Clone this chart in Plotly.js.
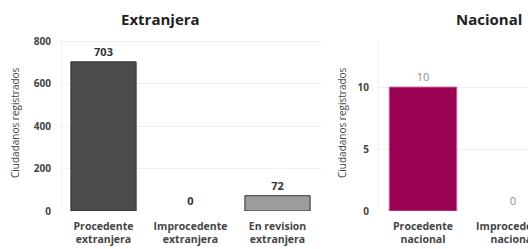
<!DOCTYPE html>
<html>
<head>
<meta charset="utf-8">
<script src="https://cdn.plot.ly/plotly-3.0.1.min.js"></script>
<style>
html,body{margin:0;padding:0;overflow:hidden;background:#fff;}
#chart{width:660px;height:249px;}
</style>
</head>
<body>
<div id="chart"></div>
<script>
// Data
const extCategories = ["Procedente<br>extranjera", "Improcedente<br>extranjera", "En revision<br>extranjera"];
const extValues = [703, 0, 72];
const nacCategories = ["Procedente<br>nacional", "Improcedente<br>nacional", "En revision<br>nacional"];
const nacValues = [10, 0, 0];
const extColors = ["#4b4b4b", "#4b4b4b", "#9c9c9c"];
const nacColors = ["#9a0054", "#9a0054", "#9a0054"];
const yTitle = "Ciudadanos registrados";

const W = 660, H = 249;
const px = v => v / W;
const py = v => (H - v) / H;

const font = "'Open Sans', 'Noto Sans', sans-serif";

const traces = [
  {
    type: "bar", x: extCategories, y: extValues, xaxis: "x", yaxis: "y",
    marker: {color: extColors, line: {color: "#333333", width: extValues.map(v => v > 0 ? 1 : 0)}},
    text: extValues.map(String), textposition: "outside", cliponaxis: false,
    textfont: {family: font, size: 11, color: "#333333", weight: "bold"},
    hoverinfo: "skip"
  },
  {
    type: "bar", x: nacCategories, y: nacValues, xaxis: "x2", yaxis: "y2",
    marker: {color: nacColors, line: {color: "#c06090", width: nacValues.map(v => v > 0 ? 1 : 0)}},
    text: nacValues.map(String), textposition: "outside", cliponaxis: false,
    textfont: {family: font, size: 11, color: "#8a8a8a"},
    hoverinfo: "skip"
  }
];

const axisCommon = {
  showline: false, zeroline: false, ticks: "outside", ticklen: 6, tickcolor: "rgba(0,0,0,0)",
  tickfont: {family: font, size: 10, color: "#444444", weight: "bold"},
  fixedrange: true
};

const layout = {
  width: W, height: H,
  margin: {l: 0, r: 0, t: 0, b: 0},
  paper_bgcolor: "#ffffff", plot_bgcolor: "#ffffff",
  showlegend: false, bargap: 0.25,
  xaxis: Object.assign({}, axisCommon, {domain: [px(60), px(321)], anchor: "y", showgrid: false, ticklen: 5,
    tickfont: {family: font, size: 10.5, color: "#444444", weight: "bold"}}),
  yaxis: Object.assign({}, axisCommon, {domain: [py(211), py(40)], anchor: "x", range: [0, 806],
    tickvals: [0, 200, 400, 600, 800], showgrid: true, gridcolor: "#f0f0f0", gridwidth: 1}),
  xaxis2: Object.assign({}, axisCommon, {domain: [px(378), px(648)], anchor: "y2", showgrid: false, ticklen: 5,
    tickfont: {family: font, size: 10.5, color: "#444444", weight: "bold"}}),
  yaxis2: Object.assign({}, axisCommon, {domain: [py(211), py(40)], anchor: "x2", range: [0, 13.8],
    tickvals: [0, 5, 10], showgrid: true, gridcolor: "#f0f0f0", gridwidth: 1}),
  shapes: [
    {type: "line", xref: "paper", yref: "paper", x0: px(62), x1: px(62), y0: py(211), y1: py(40), line: {color: "#f0f0f0", width: 1}},
    {type: "line", xref: "paper", yref: "paper", x0: px(378), x1: px(378), y0: py(211), y1: py(40), line: {color: "#f0f0f0", width: 1}}
  ],
  annotations: [
    {text: "Extranjera", xref: "paper", yref: "paper", x: px(160), y: py(19), xanchor: "center", yanchor: "middle", showarrow: false,
     font: {family: font, size: 15, color: "#222222", weight: "bold"}},
    {text: "Nacional", xref: "paper", yref: "paper", x: px(489), y: py(19), xanchor: "center", yanchor: "middle", showarrow: false,
     font: {family: font, size: 15, color: "#222222", weight: "bold"}},
    {text: yTitle, xref: "paper", yref: "paper", x: px(15), y: py(123), xanchor: "center", yanchor: "middle", textangle: -90, showarrow: false,
     font: {family: font, size: 10, color: "#444444"}},
    {text: yTitle, xref: "paper", yref: "paper", x: px(342), y: py(123), xanchor: "center", yanchor: "middle", textangle: -90, showarrow: false,
     font: {family: font, size: 10, color: "#444444"}}
  ]
};

Plotly.newPlot("chart", traces, layout, {displayModeBar: false, staticPlot: true});
</script>
</body>
</html>
